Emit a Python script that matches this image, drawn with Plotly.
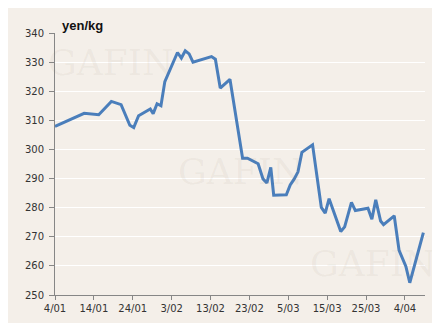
import plotly.graph_objects as go

dates = [
    "2011-01-04 00:00", "2011-01-11 12:00", "2011-01-15 06:00", "2011-01-18 12:00",
    "2011-01-21 00:00", "2011-01-23 06:00", "2011-01-24 06:00", "2011-01-25 12:00",
    "2011-01-28 12:00", "2011-01-29 06:00", "2011-01-30 06:00", "2011-01-31 06:00",
    "2011-02-01 06:00", "2011-02-04 12:00", "2011-02-05 12:00", "2011-02-06 12:00",
    "2011-02-07 12:00", "2011-02-08 12:00", "2011-02-13 06:00", "2011-02-14 06:00",
    "2011-02-15 12:00", "2011-02-18 00:00", "2011-02-21 06:00", "2011-02-22 12:00",
    "2011-02-25 06:00", "2011-02-26 12:00", "2011-02-27 12:00", "2011-02-28 12:00",
    "2011-03-01 06:00", "2011-03-04 12:00", "2011-03-05 12:00", "2011-03-06 12:00",
    "2011-03-07 12:00", "2011-03-08 12:00", "2011-03-11 06:00", "2011-03-13 12:00",
    "2011-03-14 12:00", "2011-03-15 12:00", "2011-03-18 12:00", "2011-03-19 12:00",
    "2011-03-21 06:00", "2011-03-22 06:00", "2011-03-25 12:00", "2011-03-26 12:00",
    "2011-03-27 12:00", "2011-03-28 18:00", "2011-03-29 12:00", "2011-04-01 06:00",
    "2011-04-02 12:00", "2011-04-04 06:00", "2011-04-05 06:00", "2011-04-08 18:00",
]
prices = [
    307.9, 312.4, 311.9, 316.5,
    315.4, 308.3, 307.5, 311.6,
    313.9, 312.3, 315.7, 315.0,
    323.3, 333.3, 331.4, 333.9,
    332.8, 330.0, 331.9, 331.0,
    321.1, 324.1, 297.0, 297.0,
    295.1, 289.9, 288.5, 293.8,
    284.3, 284.4, 287.8, 289.8,
    292.3, 299.0, 301.6, 280.1,
    278.1, 283.1, 271.8, 273.4,
    281.8, 279.0, 279.8, 276.0,
    282.7, 275.4, 274.2, 277.2,
    265.3, 259.8, 254.2, 271.4,
]

tick_dates = ["2011-01-04", "2011-01-14", "2011-01-24", "2011-02-03", "2011-02-13",
              "2011-02-23", "2011-03-05", "2011-03-15", "2011-03-25", "2011-04-04"]
tick_labels = ["4/01", "14/01", "24/01", "3/02", "13/02",
               "23/02", "5/03", "15/03", "25/03", "4/04"]
y_ticks = [250, 260, 270, 280, 290, 300, 310, 320, 330, 340]

bg = "#f4efe9"

fig = go.Figure()
fig.add_trace(go.Scatter(
    x=dates, y=prices, mode="lines",
    line=dict(color="#4a7ebb", width=3),
    showlegend=False, hoverinfo="skip",
))

tick_font = dict(family="DejaVu Sans", size=10, color="#333333")

fig.update_layout(
    width=440, height=323,
    margin=dict(l=47, r=23, t=25, b=36),
    paper_bgcolor=bg, plot_bgcolor=bg,
    xaxis=dict(
        type="date",
        range=["2011-01-04", "2011-04-09 04:00"],
        tickmode="array", tickvals=tick_dates, ticktext=tick_labels,
        showgrid=False, zeroline=False,
        showline=True, linecolor="#868686", linewidth=1,
        ticks="outside", ticklen=4, tickcolor="#868686",
        tickfont=tick_font,
    ),
    yaxis=dict(
        range=[250, 340],
        tickmode="array", tickvals=y_ticks,
        showgrid=True, gridcolor="#ffffff", gridwidth=1,
        zeroline=False,
        showline=True, linecolor="#868686", linewidth=1,
        ticks="outside", ticklen=5, tickcolor="#868686",
        tickfont=tick_font, ticklabelstandoff=3,
    ),
)

# faint watermarks
wm_color = "rgba(140,120,100,0.07)"
for (px, py) in [(102, 54), (232, 163), (364, 255)]:
    fig.add_annotation(
        x=(px - 47) / 370, y=(287 - py) / 262, xref="paper", yref="paper",
        text="GAFIN", showarrow=False,
        font=dict(family="DejaVu Serif", size=36, color=wm_color),
        xanchor="center", yanchor="middle",
    )

fig.add_annotation(
    x=(52 - 47) / 370, y=1 + (25 - 18) / 262, xref="paper", yref="paper",
    text="<b>yen/kg</b>", showarrow=False,
    font=dict(family="Liberation Sans", size=13, color="#111111"),
    xanchor="left", yanchor="middle",
)

fig.write_html("out.html")
